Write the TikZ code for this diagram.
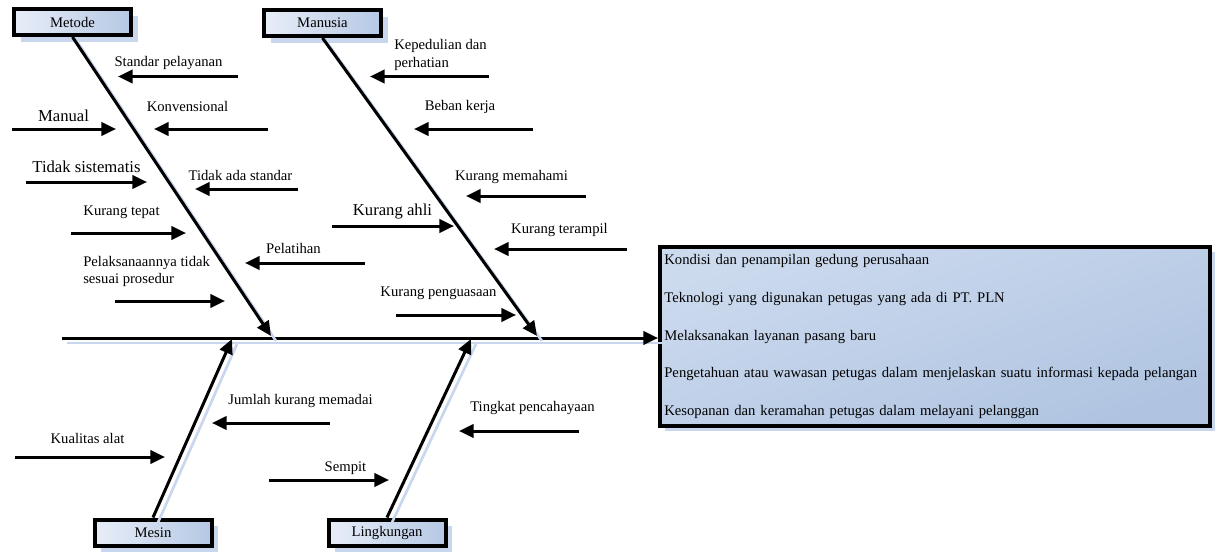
\documentclass[tikz,border=0pt]{standalone}
\usepackage{fontspec}
\setmainfont{Liberation Serif}
\usetikzlibrary{arrows.meta,shadows}
\definecolor{shadowblue}{HTML}{C8D6EE}
\definecolor{boxlight}{HTML}{E8EEF8}
\definecolor{boxdark}{HTML}{B5C8E4}
\definecolor{effectlight}{HTML}{CCDAEE}
\definecolor{effectdark}{HTML}{B0C4E1}

\begin{document}
\begin{tikzpicture}[x=0.75pt,y=-0.75pt,
  kategori/.style={draw,line width=3pt,minimum width=87.75pt,minimum height=19.5pt,inner sep=0pt,
    left color=boxlight,right color=boxdark,
    drop shadow={shadow xshift=5pt,shadow yshift=-5pt,fill=shadowblue,opacity=1},
    font=\fontsize{11}{13}\selectfont},
  akibatbox/.style={draw,line width=3pt,minimum width=412.5pt,minimum height=134.25pt,
    inner xsep=3pt,text width=406pt,align=left,
    shading=axis,top color=effectlight,bottom color=effectdark,shading angle=20,
    drop shadow={shadow xshift=4pt,shadow yshift=-4pt,fill=shadowblue,opacity=1},
    font=\fontsize{11}{28.3}\selectfont},
  lbl/.style={inner sep=0pt,font=\fontsize{11}{13}\selectfont},
  biglbl/.style={inner sep=0pt,font=\fontsize{12.5}{14}\selectfont},
  bone/.style={line width=2.25pt,-{Triangle[length=11pt,width=10pt]},
    preaction={-,draw=shadowblue,line width=2pt,transform canvas={shift={(5,5)}}}},
  sebab/.style={line width=2.25pt,-{Triangle[length=11pt,width=10pt]}}]
\useasboundingbox (0,0) rectangle (1218,553);

% kategori dan akibat
\node[kategori] (metode) at (72.5,22) {Metode};
\node[kategori] (manusia) at (322.5,23) {Manusia};
\node[kategori] (mesin) at (153,532.5) {Mesin};
\node[kategori] (lingkungan) at (387,532.5) {Lingkungan};
\node[akibatbox] (akibat) at (935,336.5) {Kondisi dan penampilan gedung perusahaan\\
Teknologi yang digunakan petugas yang ada di PT. PLN\\
Melaksanakan layanan pasang baru\\
Pengetahuan atau wawasan petugas dalam menjelaskan suatu informasi kepada pelangan\\
Kesopanan dan keramahan petugas dalam melayani pelanggan};

% tulang utama
\coordinate (ekor) at (62,338);
\coordinate (ujung1) at (271,336);
\coordinate (ujung2) at (537,336);
\coordinate (ujung3) at (232,339);
\coordinate (ujung4) at (471,339);

\path[draw,bone] (ekor) -- (ekor -| akibat.west);
\path[draw,bone] (metode.south) -- (ujung1);
\path[draw,bone] (manusia.south) -- (ujung2);
\path[draw,bone] (mesin.north) -- (ujung3);
\path[draw,bone] (lingkungan.north) -- (ujung4);

% metode
\node[lbl] (l1) at (168.5,63) {Standar pelayanan};
\node[lbl] (l2) at (187.5,106.5) {Konvensional};
\node[lbl] (l3) at (240.5,175) {Tidak ada standar};
\node[lbl] (l4) at (293.5,248) {Pelatihan};
\node[biglbl] (l5) at (63.5,116) {Manual};
\node[biglbl] (l6) at (86.5,167) {Tidak sistematis};
\node[lbl] (l7) at (121.5,212) {Kurang tepat};
\node[lbl,align=left,anchor=west] (l8) at (83,271.5) {Pelaksanaannya tidak\\sesuai prosedur};
\coordinate (t1) at (238,76.5); \coordinate (h1) at (118,76.5);
\coordinate (t2) at (268,129); \coordinate (h2) at (154,129);
\coordinate (t3) at (298,189); \coordinate (h3) at (195,189);
\coordinate (t4) at (365,263); \coordinate (h4) at (245,263);
\coordinate (t5) at (12,129); \coordinate (h5) at (116,129);
\coordinate (t6) at (26,182); \coordinate (h6) at (147,182);
\coordinate (t7) at (71,233); \coordinate (h7) at (186,233);
\coordinate (t8) at (115,301); \coordinate (h8) at (225,301);
\path[draw,sebab] (t1) -- (h1);
\path[draw,sebab] (t2) -- (h2);
\path[draw,sebab] (t3) -- (h3);
\path[draw,sebab] (t4) -- (h4);
\path[draw,sebab] (t5) -- (h5);
\path[draw,sebab] (t6) -- (h6);
\path[draw,sebab] (t7) -- (h7);
\path[draw,sebab] (t8) -- (h8);

% manusia
\node[lbl,align=left,anchor=west] (l9) at (394,55) {Kepedulian dan\\perhatian};
\node[lbl] (l10) at (460,106.5) {Beban kerja};
\node[lbl] (l11) at (511.5,177) {Kurang memahami};
\node[biglbl] (l12) at (392.5,212) {Kurang ahli};
\node[lbl] (l13) at (559.5,230) {Kurang terampil};
\node[lbl] (l14) at (438.5,293) {Kurang penguasaan};
\coordinate (t9) at (489,76.5); \coordinate (h9) at (370,76.5);
\coordinate (t10) at (533,129); \coordinate (h10) at (414,129);
\coordinate (t11) at (586,196); \coordinate (h11) at (466,196);
\coordinate (t12) at (332,226); \coordinate (h12) at (454,226);
\coordinate (t13) at (627,249); \coordinate (h13) at (494,249);
\coordinate (t14) at (396,315); \coordinate (h14) at (516,315);
\path[draw,sebab] (t9) -- (h9);
\path[draw,sebab] (t10) -- (h10);
\path[draw,sebab] (t11) -- (h11);
\path[draw,sebab] (t12) -- (h12);
\path[draw,sebab] (t13) -- (h13);
\path[draw,sebab] (t14) -- (h14);

% mesin
\node[lbl] (l15) at (300.5,401) {Jumlah kurang memadai};
\node[lbl] (l16) at (87.5,438) {Kualitas alat};
\coordinate (t15) at (330,423); \coordinate (h15) at (212,423);
\coordinate (t16) at (15,457); \coordinate (h16) at (165,457);
\path[draw,sebab] (t15) -- (h15);
\path[draw,sebab] (t16) -- (h16);

% lingkungan
\node[lbl] (l17) at (532.5,408) {Tingkat pencahayaan};
\node[lbl] (l18) at (345.5,468) {Sempit};
\coordinate (t17) at (579,431); \coordinate (h17) at (459,431);
\coordinate (t18) at (269,480); \coordinate (h18) at (389,480);
\path[draw,sebab] (t17) -- (h17);
\path[draw,sebab] (t18) -- (h18);
\end{tikzpicture}
\end{document}
